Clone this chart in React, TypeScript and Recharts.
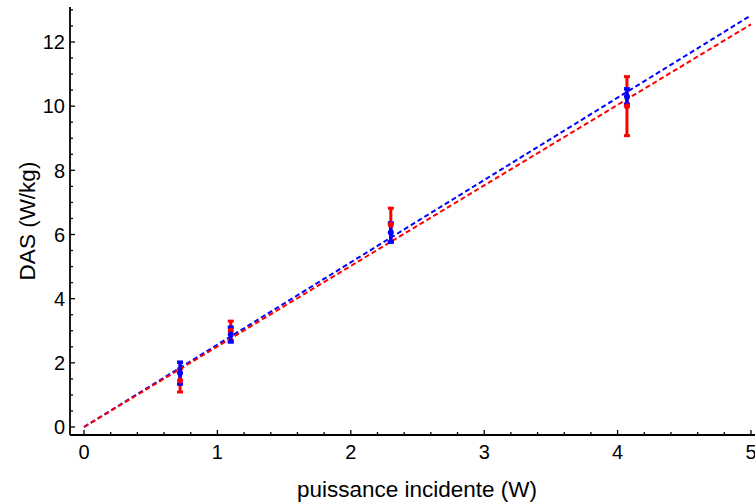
import React from "react";
import {
  ComposedChart,
  XAxis,
  YAxis,
  Line,
  Scatter,
  ErrorBar,
} from "recharts";

// --- DATA ---
const powerW = [0.72, 1.1, 2.3, 4.07];
const dasRed = [1.45, 3.0, 6.3, 10.0];
const errRed = [0.36, 0.3, 0.52, 0.92];
const dasBlue = [1.68, 2.88, 6.06, 10.3];
const errBlue = [0.34, 0.23, 0.3, 0.24];

const fitX = [0, 5];
const fitBlue = [0, 12.83];
const fitRed = [0, 12.55];

const xMajor = [0, 1, 2, 3, 4, 5];
const yMajor = [0, 2, 4, 6, 8, 10, 12];

const xTicks = Array.from({ length: 26 }, (_, i) => Math.round(i * 2) / 10);
const yTicks = Array.from({ length: 27 }, (_, i) => i / 2);

const redPts = powerW.map((x, i) => ({ x, y: dasRed[i], err: errRed[i] }));
const bluePts = powerW.map((x, i) => ({ x, y: dasBlue[i], err: errBlue[i] }));
const redFit = fitX.map((x, i) => ({ x, y: fitRed[i] }));
const blueFit = fitX.map((x, i) => ({ x, y: fitBlue[i] }));

const FONT = "'Liberation Sans', Arial, sans-serif";

const isMajor = (v: number, list: number[]) =>
  list.some((m) => Math.abs(m - v) < 1e-6);

// bottom / top ticks point into the plot
const XTick = (props: any) => {
  const { x, y, payload, side } = props;
  const major = isMajor(payload.value, xMajor);
  const len = major ? 5 : 3;
  const dir = side === "top" ? 1 : -1;
  return (
    <g>
      <line x1={x} y1={y} x2={x} y2={y + dir * len} stroke="#000" strokeWidth={1.3} />
      {major && side !== "top" && (
        <text
          x={x}
          y={y + 24}
          textAnchor="middle"
          fontFamily={FONT}
          fontSize={20}
          fill="#000"
        >
          {payload.value}
        </text>
      )}
    </g>
  );
};

const YTick = (props: any) => {
  const { x, y, payload } = props;
  const major = isMajor(payload.value, yMajor);
  const len = major ? 5 : 3;
  return (
    <g>
      <line x1={x} y1={y} x2={x + len} y2={y} stroke="#000" strokeWidth={1.3} />
      {major && (
        <text
          x={x - 5}
          y={y}
          dy="0.36em"
          textAnchor="end"
          fontFamily={FONT}
          fontSize={20}
          fill="#000"
        >
          {payload.value}
        </text>
      )}
    </g>
  );
};

const XLabel = (p: any) => {
  const vb = p.viewBox;
  return (
    <text
      x={vb.x + vb.width / 2 + 4}
      y={vb.y + vb.height - 6}
      textAnchor="middle"
      fontFamily={FONT}
      fontSize={22.5}
      fill="#000"
    >
      puissance incidente (W)
    </text>
  );
};

const YLabel = (p: any) => {
  const vb = p.viewBox;
  const cx = 35;
  const cy = vb.y + vb.height / 2;
  return (
    <text
      x={cx}
      y={cy}
      transform={`rotate(-90 ${cx} ${cy})`}
      textAnchor="middle"
      fontFamily={FONT}
      fontSize={22.5}
      fill="#000"
    >
      DAS (W/kg)
    </text>
  );
};

const Dot = (color: string) => (p: any) =>
  <circle cx={p.cx} cy={p.cy} r={3} fill={color} />;

export default function App() {
  return (
    <div style={{ position: "absolute", left: 0, top: 0, width: 755, height: 503, overflow: "hidden", background: "#fff" }}>
      <ComposedChart
        width={770}
        height={503}
        margin={{ top: 7, right: 14, bottom: 0, left: 0 }}
      >
        <XAxis
          xAxisId="b"
          type="number"
          dataKey="x"
          domain={[-0.105, 5.0375]}
          ticks={xTicks}
          interval={0}
          height={68}
          tickSize={0}
          tickMargin={0}
          allowDataOverflow
          axisLine={{ stroke: "#000", strokeWidth: 1.8 }}
          tick={<XTick side="bottom" />}
          label={<XLabel />}
        />
        <XAxis
          xAxisId="t"
          orientation="top"
          type="number"
          dataKey="x"
          domain={[-0.105, 5.0375]}
          ticks={xTicks}
          interval={0}
          height={0}
          tickSize={0}
          tickMargin={0}
          allowDataOverflow
          axisLine={{ stroke: "#000", strokeWidth: 1.8 }}
          tick={<XTick side="top" />}
        />
        <YAxis
          yAxisId="l"
          type="number"
          domain={[-0.249, 13.09]}
          ticks={yTicks}
          interval={0}
          width={70}
          tickSize={0}
          tickMargin={0}
          allowDataOverflow
          axisLine={{ stroke: "#000", strokeWidth: 1.8 }}
          tick={<YTick />}
          label={<YLabel />}
        />
        <YAxis
          yAxisId="r"
          orientation="right"
          type="number"
          domain={[-0.249, 13.09]}
          width={0}
          tick={false}
          tickLine={false}
          axisLine={{ stroke: "#000", strokeWidth: 1.8 }}
        />
        <Line
          xAxisId="b"
          yAxisId="l"
          data={blueFit}
          dataKey="y"
          stroke="#0000ff"
          strokeWidth={2}
          strokeDasharray="5 3"
          dot={false}
          isAnimationActive={false}
        />
        <Line
          xAxisId="b"
          yAxisId="l"
          data={redFit}
          dataKey="y"
          stroke="#ff0000"
          strokeWidth={2}
          strokeDasharray="5 3"
          dot={false}
          isAnimationActive={false}
        />
        <Scatter
          xAxisId="b"
          yAxisId="l"
          data={redPts}
          dataKey="y"
          fill="#ff0000"
          shape={Dot("#ff0000")}
          isAnimationActive={false}
        >
          <ErrorBar dataKey="err" direction="y" width={3} stroke="#ff0000" strokeWidth={3} isAnimationActive={false} />
        </Scatter>
        <Scatter
          xAxisId="b"
          yAxisId="l"
          data={bluePts}
          dataKey="y"
          fill="#0000ff"
          shape={Dot("#0000ff")}
          isAnimationActive={false}
        >
          <ErrorBar dataKey="err" direction="y" width={3} stroke="#0000ff" strokeWidth={3.5} isAnimationActive={false} />
        </Scatter>
      </ComposedChart>
    </div>
  );
}
